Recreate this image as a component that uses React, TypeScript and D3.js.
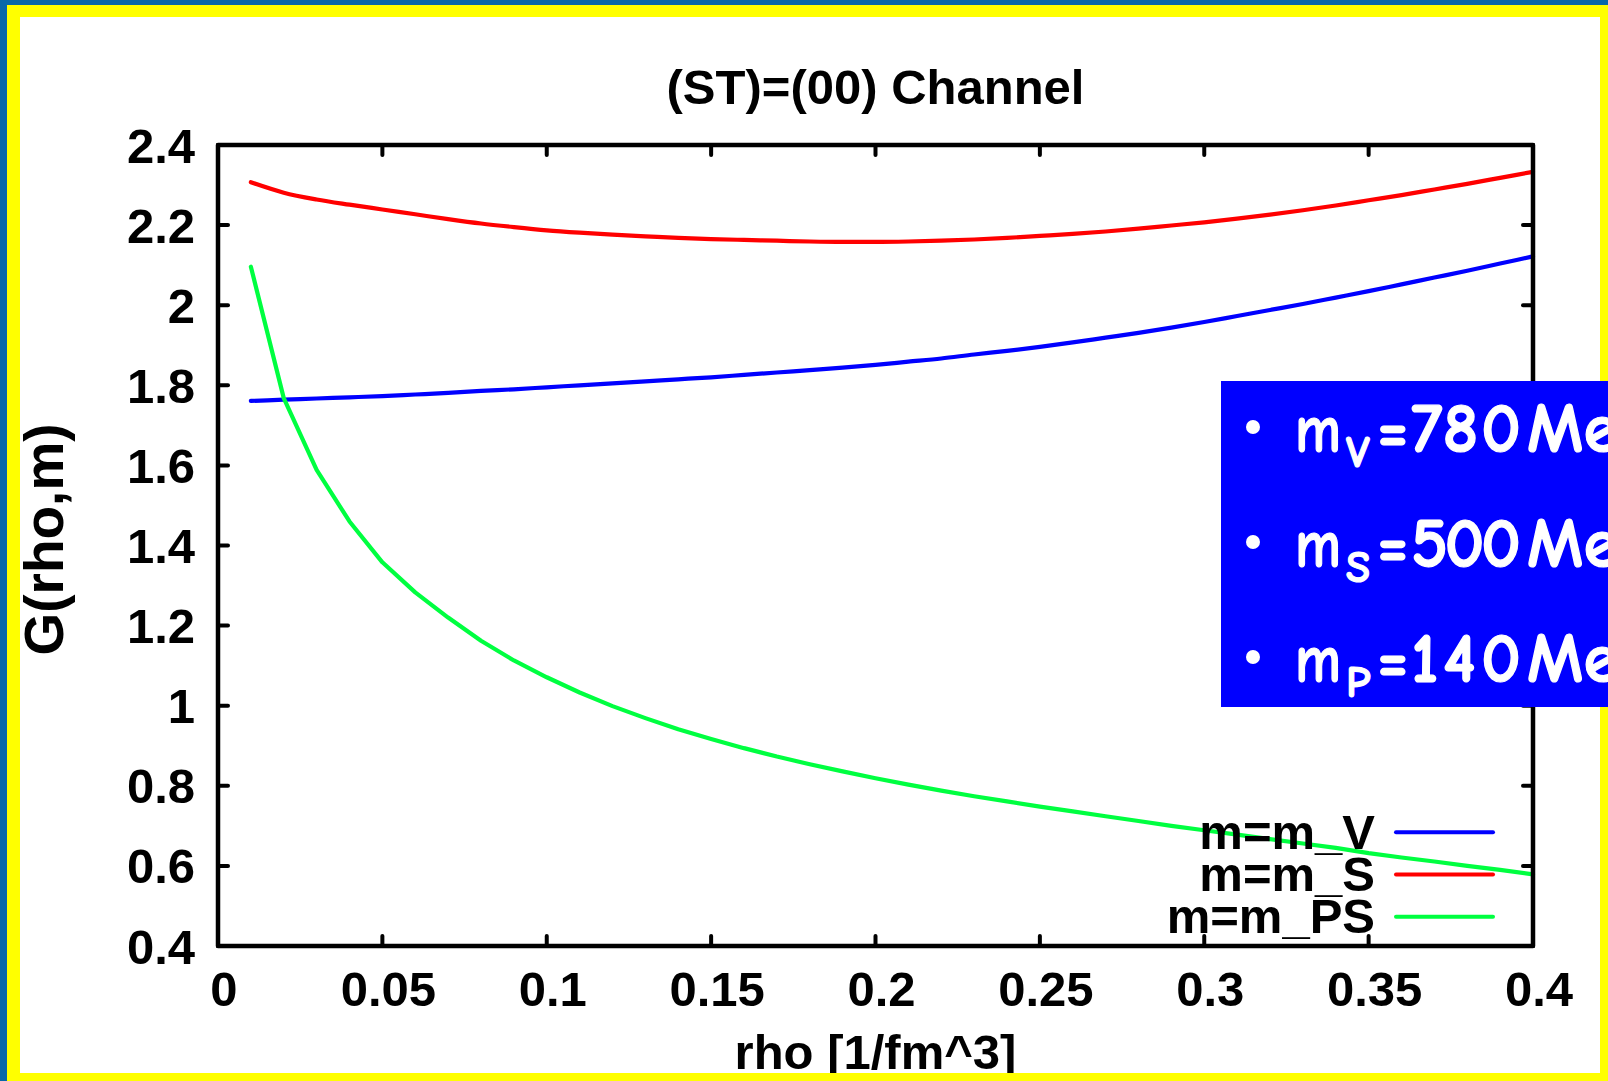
import React from "react";
import * as d3 from "d3";

// density grid [1/fm^3]
const rho = [
  0.01, 0.02, 0.03, 0.04, 0.05, 0.06, 0.07, 0.08, 0.09, 0.1,
  0.11, 0.12, 0.13, 0.14, 0.15, 0.16, 0.17, 0.18, 0.19, 0.2,
  0.21, 0.22, 0.23, 0.24, 0.25, 0.26, 0.27, 0.28, 0.29, 0.3,
  0.31, 0.32, 0.33, 0.34, 0.35, 0.36, 0.37, 0.38, 0.39, 0.4,
];

// G(rho, m) for m = m_V
const gV = [
  1.761, 1.764, 1.767, 1.77, 1.773, 1.777, 1.781, 1.786, 1.79, 1.795,
  1.8, 1.805, 1.81, 1.815, 1.82, 1.826, 1.832, 1.838, 1.844, 1.851,
  1.859, 1.867, 1.877, 1.886, 1.896, 1.907, 1.919, 1.931, 1.944, 1.958,
  1.973, 1.988, 2.003, 2.019, 2.035, 2.052, 2.069, 2.086, 2.104, 2.122,
];

// G(rho, m) for m = m_S
const gS = [
  2.307, 2.281, 2.264, 2.251, 2.239, 2.227, 2.215, 2.204, 2.195, 2.187,
  2.181, 2.176, 2.172, 2.168, 2.165, 2.163, 2.161, 2.159, 2.158, 2.158,
  2.159, 2.161, 2.164, 2.168, 2.173, 2.178, 2.184, 2.191, 2.199, 2.207,
  2.216, 2.226, 2.237, 2.249, 2.262, 2.275, 2.289, 2.303, 2.318, 2.333,
];

// G(rho, m) for m = m_PS
const gPS = [
  2.096, 1.768, 1.589, 1.46, 1.358, 1.283, 1.22, 1.162, 1.113, 1.071,
  1.033, 0.999, 0.969, 0.941, 0.917, 0.894, 0.873, 0.854, 0.836, 0.819,
  0.803, 0.788, 0.774, 0.761, 0.748, 0.736, 0.724, 0.712, 0.7, 0.689,
  0.678, 0.667, 0.656, 0.645, 0.632, 0.621, 0.611, 0.6, 0.59, 0.579,
];

const xTicks = [0, 0.05, 0.1, 0.15, 0.2, 0.25, 0.3, 0.35, 0.4];
const xTickLabels = ["0", "0.05", "0.1", "0.15", "0.2", "0.25", "0.3", "0.35", "0.4"];
const yTicks = [0.4, 0.6, 0.8, 1.0, 1.2, 1.4, 1.6, 1.8, 2.0, 2.2, 2.4];
const yTickLabels = ["0.4", "0.6", "0.8", "1", "1.2", "1.4", "1.6", "1.8", "2", "2.2", "2.4"];

const seriesNames = ["m=m_V", "m=m_S", "m=m_PS"];
const seriesColors = ["#0000ff", "#ff0000", "#00ff40"];

// mass parameters shown in the note box
const massMain = ["m", "m", "m"];
const massSub = ["V", "S", "P"];
const massValue = ["780", "500", "140"];

const W = 1608;
const H = 1081;
const M = { left: 218, right: 1533, top: 145, bottom: 946 };
const FONT = "'Liberation Sans', Arial, Helvetica, sans-serif";
const NOTE_FONT = "'Comic Sans MS', 'Comic Neue', Lato, sans-serif";

export default function App() {
  const x = d3.scaleLinear().domain([0, 0.4]).range([M.left, M.right]);
  const y = d3.scaleLinear().domain([0.4, 2.4]).range([M.bottom, M.top]);
  const smooth = d3
    .line<number>()
    .x((_, i) => x(rho[i]))
    .y((d) => y(d))
    .curve(d3.curveMonotoneX);
  const straight = d3
    .line<number>()
    .x((_, i) => x(rho[i]))
    .y((d) => y(d));
  const series = [gV, gS, gPS];
  const gens = [smooth, smooth, straight];
  const tickLen = 10;

  const frameYellow = `M7,5H${W}V${H}H7Z M20,17V1073H1600V17Z`;
  const frameBlue = `M0,0H${W}V5H7V${H}H0Z`;

  const legendX0 = 1396;
  const legendX1 = 1493;
  const legendY0 = 832.3;
  const legendStep = 42.2;

  const noteBase = [452, 567, 682];

  return (
    <svg
      width={W}
      height={H}
      viewBox={`0 0 ${W} ${H}`}
      style={{ position: "absolute", left: 0, top: 0, display: "block" }}
    >
      <rect x={0} y={0} width={W} height={H} fill="#ffffff" />

      {/* title */}
      <text
        x={(M.left + M.right) / 2}
        y={104}
        textAnchor="middle"
        fontFamily={FONT}
        fontWeight="bold"
        fontSize={49}
      >
        (ST)=(00) Channel
      </text>

      {/* curves */}
      {series.map((s, i) => (
        <path
          key={seriesNames[i]}
          d={gens[i](s) || ""}
          fill="none"
          stroke={seriesColors[i]}
          strokeWidth={4.2}
          strokeLinejoin="round"
          strokeLinecap="round"
        />
      ))}

      {/* ticks, inward on all four sides */}
      <g stroke="#000" strokeWidth={4} strokeLinecap="round">
        {xTicks.map((t) => (
          <g key={"xt" + t}>
            <line x1={x(t)} x2={x(t)} y1={M.bottom} y2={M.bottom - tickLen} />
            <line x1={x(t)} x2={x(t)} y1={M.top} y2={M.top + tickLen} />
          </g>
        ))}
        {yTicks.map((t) => (
          <g key={"yt" + t}>
            <line x1={M.left} x2={M.left + tickLen} y1={y(t)} y2={y(t)} />
            <line x1={M.right} x2={M.right - tickLen} y1={y(t)} y2={y(t)} />
          </g>
        ))}
      </g>

      {/* tick labels */}
      <g fontFamily={FONT} fontWeight="bold" fontSize={49} fill="#000">
        {xTicks.map((t, i) => (
          <text key={"xl" + t} x={x(t) + 6} y={1006} textAnchor="middle">
            {xTickLabels[i]}
          </text>
        ))}
        {yTicks.map((t, i) => (
          <text key={"yl" + t} x={195} y={y(t) + 17.5} textAnchor="end">
            {yTickLabels[i]}
          </text>
        ))}
      </g>

      {/* axis titles */}
      <text
        x={(M.left + M.right) / 2}
        y={1069}
        textAnchor="middle"
        fontFamily={FONT}
        fontWeight="bold"
        fontSize={49}
      >
        rho [1/fm^3]
      </text>
      <text
        transform={`translate(63, ${(M.top + M.bottom) / 2 - 6}) rotate(-90)`}
        textAnchor="middle"
        fontFamily={FONT}
        fontWeight="bold"
        fontSize={55}
      >
        G(rho,m)
      </text>

      {/* legend */}
      <g fontFamily={FONT} fontWeight="bold" fontSize={49}>
        {seriesNames.map((n, i) => {
          const ly = legendY0 + i * legendStep;
          return (
            <g key={"lg" + n}>
              <text x={1375} y={ly + 16.5} textAnchor="end" fill="#000">
                {n}
              </text>
              <line
                x1={legendX0}
                x2={legendX1}
                y1={ly}
                y2={ly}
                stroke={seriesColors[i]}
                strokeWidth={4}
                strokeLinecap="round"
              />
            </g>
          );
        })}
      </g>

      {/* border of plot area */}
      <rect
        x={M.left}
        y={M.top}
        width={M.right - M.left}
        height={M.bottom - M.top}
        fill="none"
        stroke="#000"
        strokeWidth={4.5}
        strokeLinejoin="round"
      />

      {/* page frame */}
      <path d={frameYellow} fill="#ffff00" fillRule="evenodd" />
      <path d={frameBlue} fill="#0867a9" />

      {/* note box with meson masses */}
      <rect x={1221} y={381} width={W - 1221} height={326} fill="#0000ff" />
      <g fill="#ffffff" stroke="#ffffff" strokeWidth={1.2} strokeLinejoin="round" fontFamily={NOTE_FONT} fontWeight="bold">
        {noteBase.map((b, i) => (
          <g key={"note" + i}>
            <circle cx={1253} cy={b - 25} r={7} strokeWidth={0} />
            <text x={1295} y={b} fontSize={68} textLength={46} lengthAdjust="spacingAndGlyphs">
              {massMain[i]}
            </text>
            <text x={1346} y={b + 15} fontSize={44}>
              {massSub[i]}
            </text>
            <text x={1377} y={b} fontSize={68}>
              =
            </text>
            <text x={1411} y={b} fontSize={70} textLength={110} lengthAdjust="spacing">
              {massValue[i]}
            </text>
            <text x={1527} y={b} fontSize={70}>
              MeV
            </text>
          </g>
        ))}
      </g>
    </svg>
  );
}
